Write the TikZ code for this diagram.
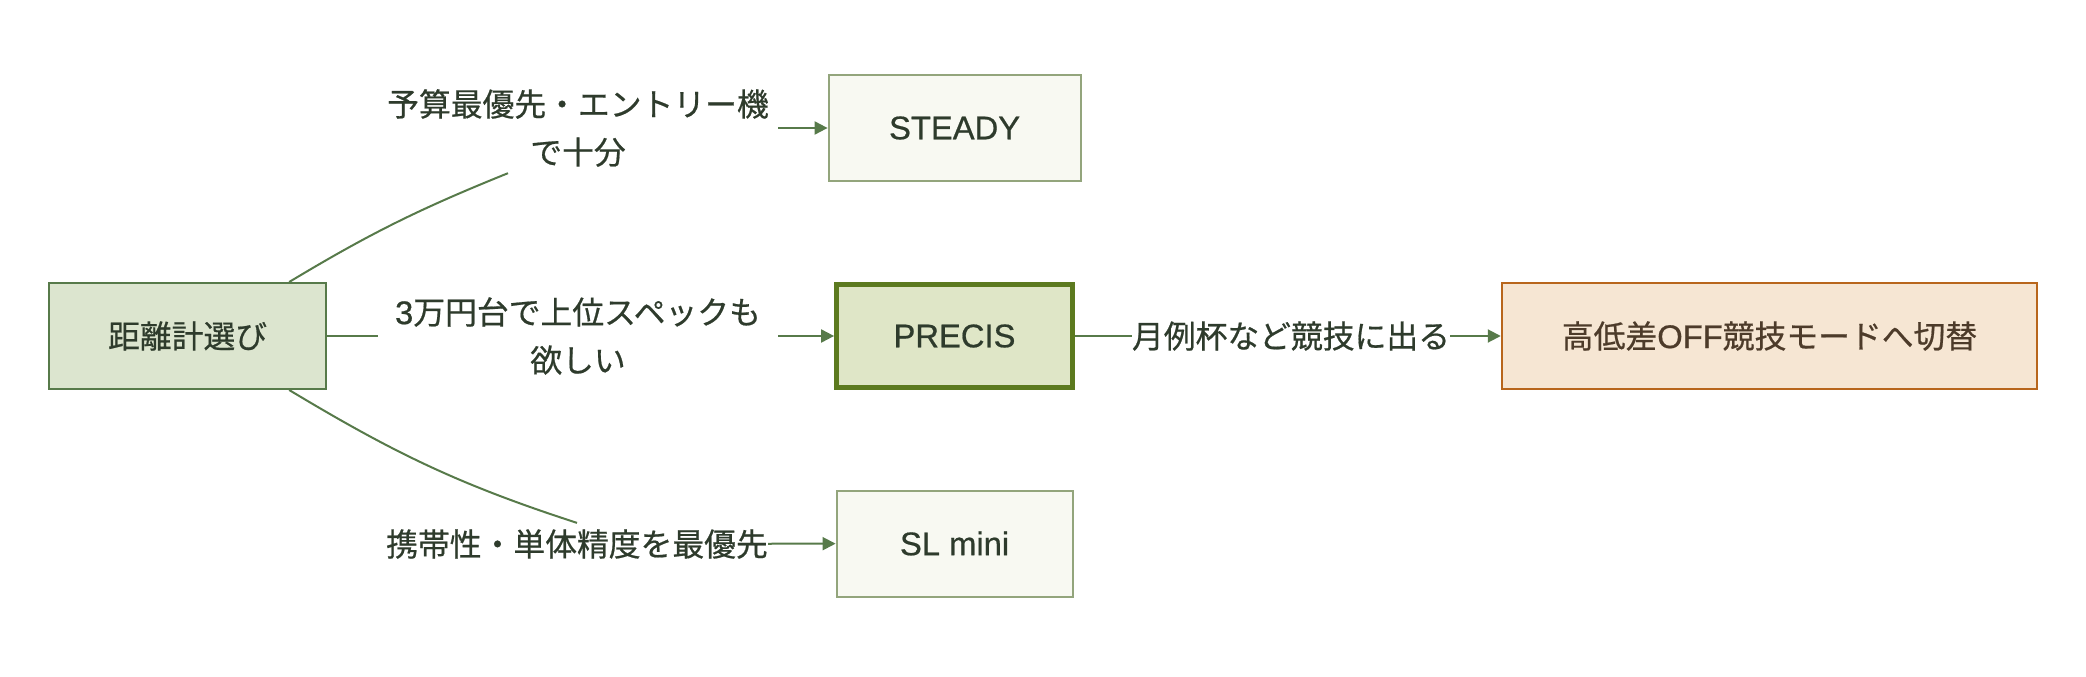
\documentclass[tikz,border=0pt]{standalone}
\usepackage{fontspec}
\setmainfont{Noto Sans CJK JP}[UprightFeatures={FakeBold=0.6}]
\newfontfamily\latin[Scale=1.03,FakeBold=0.6]{Liberation Sans}
\usepackage{tikz}
\usetikzlibrary{arrows.meta,calc}

\definecolor{linkc}{HTML}{577A4A}
\definecolor{txtc}{HTML}{2E3B2C}
\definecolor{startfill}{HTML}{DCE5CF}
\definecolor{pickfill}{HTML}{DFE6C7}
\definecolor{pickline}{HTML}{5C7A1F}
\definecolor{altfill}{HTML}{F8F9F2}
\definecolor{altline}{HTML}{93A57C}
\definecolor{modefill}{HTML}{F6E6D3}
\definecolor{modeline}{HTML}{B8661C}
\definecolor{modetxt}{HTML}{4D3B2A}

\tikzset{
  box/.style={draw, line width=1pt, minimum height=53pt, text=txtc},
  startbox/.style={box, fill=startfill, draw=linkc, minimum width=138.5pt},
  altbox/.style={box, fill=altfill, draw=altline, minimum width=126pt},
  pickbox/.style={box, fill=pickfill, draw=pickline, line width=2.4pt,
    minimum width=118pt, minimum height=51.5pt},
  modebox/.style={box, fill=modefill, draw=modeline, text=modetxt,
    minimum width=267.75pt},
  lbl/.style={text=txtc, inner xsep=0pt, inner ysep=3pt, align=center},
  link/.style={draw=linkc, line width=1pt},
  tip/.style={link, -{Triangle[length=6.5pt,width=6.5pt]}}
}

\begin{document}
\begin{tikzpicture}[x=0.5pt, y=0.5pt]
\fontsize{15.9pt}{24pt}\selectfont
\useasboundingbox (0,0) rectangle (2086,676);

% boxes
\node[startbox] (start) at (187.6,340) {距離計選び};
\node[altbox] (steady) at (954.6,548) {\latin STEADY};
\node[pickbox] (precis) at (954.5,340) {\latin PRECIS};
\node[altbox, minimum width=118pt] (slmini) at (954.6,132.5) {\latin SL mini};
\node[modebox] (mode) at (1769.5,340) {高低差{\latin OFF}競技モードへ切替};

% edge labels
\node[lbl, text width=200pt] (toplbl) at (578,548) {予算最優先・エントリー機\\で十分};
\node[lbl, text width=200pt] (midlbl) at (578,340) {{\latin 3}万円台で上位スペックも\\欲しい};
\node[lbl] (botlbl) at (577,132) {携帯性・単体精度を最優先};
\node[lbl] (rlbl) at (1291,340) {月例杯など競技に出る};

% edges
\draw[link] (start.28) to[out=31,in=202] ($(toplbl.south)+(-70,0)$);
\draw[tip] (toplbl) -- (steady);
\draw[link] (start) -- (midlbl);
\draw[tip] (midlbl) -- (precis);
\draw[link] (start.-28) to[out=-31,in=162] (botlbl.north);
\draw[tip] (botlbl) -- (slmini);
\draw[link] (precis) -- (rlbl);
\draw[tip] (rlbl) -- (mode);
\end{tikzpicture}
\end{document}
